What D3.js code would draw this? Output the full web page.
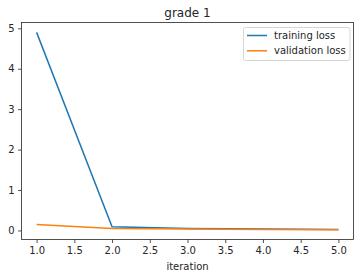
<!DOCTYPE html>
<html>
<head>
<meta charset="utf-8">
<script src="https://cdn.jsdelivr.net/npm/d3@7"></script>
<style>
  body { margin: 0; background: #fff; }
  svg text { font-family: "DejaVu Sans", sans-serif; fill: #262626; }
</style>
</head>
<body>
<div id="chart"></div>
<script>
const iterations = [1, 2, 3, 4, 5];
const trainingLoss = [4.9, 0.09, 0.05, 0.035, 0.025];
const validationLoss = [0.15, 0.05, 0.035, 0.025, 0.02];
const xTicks = [1.0, 1.5, 2.0, 2.5, 3.0, 3.5, 4.0, 4.5, 5.0];
const yTicks = [0, 1, 2, 3, 4, 5];

const main = function() {
  const width = 362, height = 278;
  const margin = { left: 21.5, top: 22.5, right: 8.5, bottom: 38.5 };
  const svg = d3.select("#chart")
    .append("svg")
    .attr("width", width)
    .attr("height", height);

  // matplotlib style 5% padding
  const xPad = (5 - 1) * 0.05;
  const all = trainingLoss.concat(validationLoss);
  const yMin = d3.min(all), yMax = d3.max(all);
  const yPad = (yMax - yMin) * 0.05;

  const x = d3.scaleLinear()
    .domain([1 - xPad, 5 + xPad])
    .range([margin.left, width - margin.right]);
  const y = d3.scaleLinear()
    .domain([yMin - yPad, yMax + yPad])
    .range([height - margin.bottom, margin.top]);

  const xAxis = svg.append("g")
    .attr("transform", "translate(0," + (height - margin.bottom) + ")")
    .call(d3.axisBottom(x).tickValues(xTicks).tickFormat(d3.format(".1f")).tickSizeOuter(0).tickSize(3.5).tickPadding(3.5));
  const yAxis = svg.append("g")
    .attr("transform", "translate(" + margin.left + ",0)")
    .call(d3.axisLeft(y).tickValues(yTicks).tickFormat(d3.format("d")).tickSizeOuter(0).tickSize(3.5).tickPadding(3.5));

  [xAxis, yAxis].forEach(a => {
    a.select(".domain").remove();
    a.selectAll("line").attr("stroke", "#262626").attr("stroke-width", 0.8);
    a.selectAll("text").style("font-size", "10px").attr("fill", "#262626");
  });

  svg.append("rect")
    .attr("x", margin.left)
    .attr("y", margin.top)
    .attr("width", width - margin.left - margin.right)
    .attr("height", height - margin.top - margin.bottom)
    .attr("fill", "none")
    .attr("stroke", "#262626")
    .attr("stroke-width", 0.8);

  const line = d3.line()
    .x((d, i) => x(iterations[i]))
    .y(d => y(d));

  svg.append("path")
    .datum(trainingLoss)
    .attr("d", line)
    .attr("fill", "none")
    .attr("stroke", "#1f77b4")
    .attr("stroke-width", 1.5);

  svg.append("path")
    .datum(validationLoss)
    .attr("d", line)
    .attr("fill", "none")
    .attr("stroke", "#ff7f0e")
    .attr("stroke-width", 1.5);

  svg.append("text")
    .attr("x", (margin.left + width - margin.right) / 2)
    .attr("y", 17)
    .attr("text-anchor", "middle")
    .style("font-size", "12px")
    .text("grade 1");

  svg.append("text")
    .attr("x", (margin.left + width - margin.right) / 2)
    .attr("y", 270)
    .attr("text-anchor", "middle")
    .style("font-size", "10px")
    .text("iteration");

  // legend
  const legend = svg.append("g");
  legend.append("rect")
    .attr("x", 243.5)
    .attr("y", 27.5)
    .attr("width", 106.5)
    .attr("height", 33)
    .attr("rx", 2)
    .attr("fill", "#fff")
    .attr("fill-opacity", 0.8)
    .attr("stroke", "#cccccc")
    .attr("stroke-width", 0.8);
  const items = [
    { name: "training loss", color: "#1f77b4" },
    { name: "validation loss", color: "#ff7f0e" }
  ];
  items.forEach((it, i) => {
    const cy = 35.5 + i * 15.3;
    legend.append("line")
      .attr("x1", 247).attr("x2", 267)
      .attr("y1", cy).attr("y2", cy)
      .attr("stroke", it.color)
      .attr("stroke-width", 1.5);
    legend.append("text")
      .attr("x", 274)
      .attr("y", cy + 3.6)
      .style("font-size", "10px")
      .text(it.name);
  });
};

window.onload = main;
</script>
</body>
</html>
